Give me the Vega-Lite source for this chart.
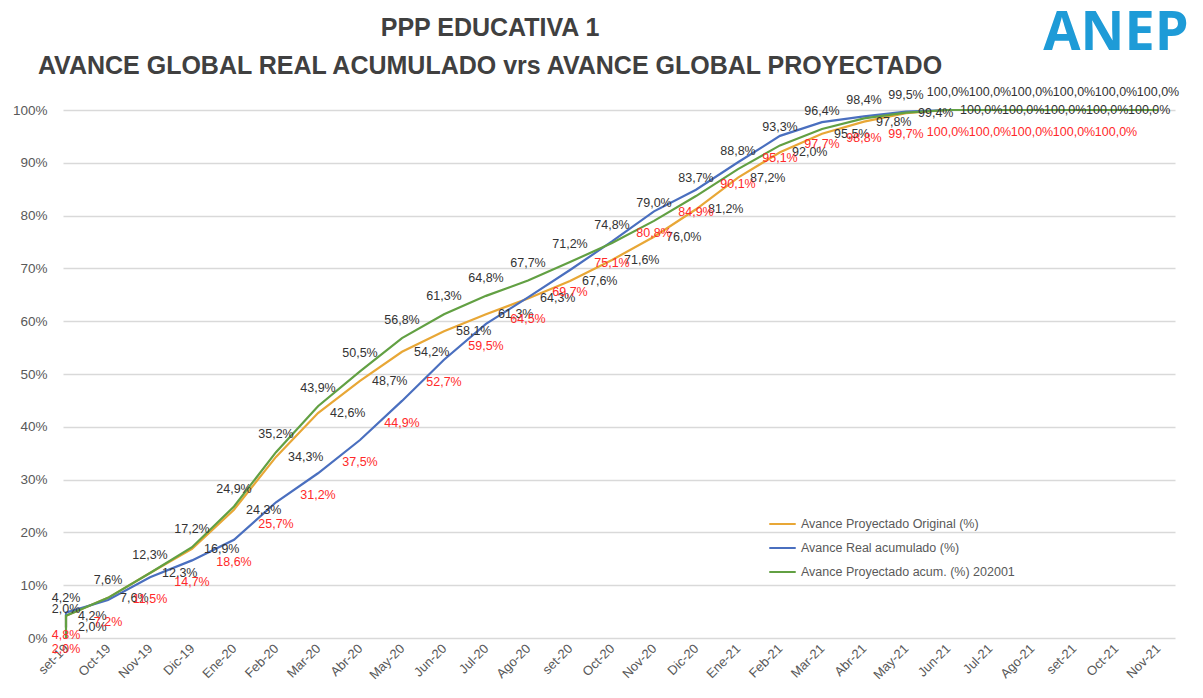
{
  "$schema": "https://vega.github.io/schema/vega-lite/v6.json",
  "width": 1112,
  "height": 528,
  "autosize": {"type": "none"},
  "padding": {"left": 63, "top": 110, "right": 28, "bottom": 60},
  "background": "white",
  "config": {
    "view": {"stroke": null},
    "locale": {"number": {"decimal": ",", "thousands": ".", "grouping": [3], "currency": ["", " €"]}},
    "text": {"font": "Liberation Sans", "fontSize": 12.5}
  },
  "title": {
    "text": ["PPP EDUCATIVA 1", "AVANCE GLOBAL REAL ACUMULADO vrs AVANCE GLOBAL PROYECTADO"],
    "font": "Liberation Sans",
    "fontSize": 25,
    "fontWeight": "bold",
    "color": "#404040",
    "anchor": "middle",
    "dx": -129,
    "offset": -72,
    "lineHeight": 38
  },
  "datasets": {
    "d": [
      {"m": "set-19", "i": 0, "s": "Avance Proyectado Original (%)", "v": 0.020},
      {"m": "set-19", "i": 1, "s": "Avance Proyectado Original (%)", "v": 0.042},
      {"m": "Oct-19", "i": 2, "s": "Avance Proyectado Original (%)", "v": 0.076},
      {"m": "Nov-19", "i": 3, "s": "Avance Proyectado Original (%)", "v": 0.123},
      {"m": "Dic-19", "i": 4, "s": "Avance Proyectado Original (%)", "v": 0.169},
      {"m": "Ene-20", "i": 5, "s": "Avance Proyectado Original (%)", "v": 0.243},
      {"m": "Feb-20", "i": 6, "s": "Avance Proyectado Original (%)", "v": 0.343},
      {"m": "Mar-20", "i": 7, "s": "Avance Proyectado Original (%)", "v": 0.426},
      {"m": "Abr-20", "i": 8, "s": "Avance Proyectado Original (%)", "v": 0.487},
      {"m": "May-20", "i": 9, "s": "Avance Proyectado Original (%)", "v": 0.542},
      {"m": "Jun-20", "i": 10, "s": "Avance Proyectado Original (%)", "v": 0.581},
      {"m": "Jul-20", "i": 11, "s": "Avance Proyectado Original (%)", "v": 0.613},
      {"m": "Ago-20", "i": 12, "s": "Avance Proyectado Original (%)", "v": 0.643},
      {"m": "set-20", "i": 13, "s": "Avance Proyectado Original (%)", "v": 0.676},
      {"m": "Oct-20", "i": 14, "s": "Avance Proyectado Original (%)", "v": 0.716},
      {"m": "Nov-20", "i": 15, "s": "Avance Proyectado Original (%)", "v": 0.760},
      {"m": "Dic-20", "i": 16, "s": "Avance Proyectado Original (%)", "v": 0.812},
      {"m": "Ene-21", "i": 17, "s": "Avance Proyectado Original (%)", "v": 0.872},
      {"m": "Feb-21", "i": 18, "s": "Avance Proyectado Original (%)", "v": 0.920},
      {"m": "Mar-21", "i": 19, "s": "Avance Proyectado Original (%)", "v": 0.955},
      {"m": "Abr-21", "i": 20, "s": "Avance Proyectado Original (%)", "v": 0.978},
      {"m": "May-21", "i": 21, "s": "Avance Proyectado Original (%)", "v": 0.994},
      {"m": "Jun-21", "i": 22, "s": "Avance Proyectado Original (%)", "v": 1.0},
      {"m": "Jul-21", "i": 23, "s": "Avance Proyectado Original (%)", "v": 1.0},
      {"m": "Ago-21", "i": 24, "s": "Avance Proyectado Original (%)", "v": 1.0},
      {"m": "set-21", "i": 25, "s": "Avance Proyectado Original (%)", "v": 1.0},
      {"m": "Oct-21", "i": 26, "s": "Avance Proyectado Original (%)", "v": 1.0},

      {"m": "set-19", "i": 0, "s": "Avance Real acumulado (%)", "v": 0.020},
      {"m": "set-19", "i": 1, "s": "Avance Real acumulado (%)", "v": 0.048},
      {"m": "Oct-19", "i": 2, "s": "Avance Real acumulado (%)", "v": 0.072},
      {"m": "Nov-19", "i": 3, "s": "Avance Real acumulado (%)", "v": 0.115},
      {"m": "Dic-19", "i": 4, "s": "Avance Real acumulado (%)", "v": 0.147},
      {"m": "Ene-20", "i": 5, "s": "Avance Real acumulado (%)", "v": 0.186},
      {"m": "Feb-20", "i": 6, "s": "Avance Real acumulado (%)", "v": 0.257},
      {"m": "Mar-20", "i": 7, "s": "Avance Real acumulado (%)", "v": 0.312},
      {"m": "Abr-20", "i": 8, "s": "Avance Real acumulado (%)", "v": 0.375},
      {"m": "May-20", "i": 9, "s": "Avance Real acumulado (%)", "v": 0.449},
      {"m": "Jun-20", "i": 10, "s": "Avance Real acumulado (%)", "v": 0.527},
      {"m": "Jul-20", "i": 11, "s": "Avance Real acumulado (%)", "v": 0.595},
      {"m": "Ago-20", "i": 12, "s": "Avance Real acumulado (%)", "v": 0.645},
      {"m": "set-20", "i": 13, "s": "Avance Real acumulado (%)", "v": 0.697},
      {"m": "Oct-20", "i": 14, "s": "Avance Real acumulado (%)", "v": 0.751},
      {"m": "Nov-20", "i": 15, "s": "Avance Real acumulado (%)", "v": 0.808},
      {"m": "Dic-20", "i": 16, "s": "Avance Real acumulado (%)", "v": 0.849},
      {"m": "Ene-21", "i": 17, "s": "Avance Real acumulado (%)", "v": 0.901},
      {"m": "Feb-21", "i": 18, "s": "Avance Real acumulado (%)", "v": 0.951},
      {"m": "Mar-21", "i": 19, "s": "Avance Real acumulado (%)", "v": 0.977},
      {"m": "Abr-21", "i": 20, "s": "Avance Real acumulado (%)", "v": 0.988},
      {"m": "May-21", "i": 21, "s": "Avance Real acumulado (%)", "v": 0.997},
      {"m": "Jun-21", "i": 22, "s": "Avance Real acumulado (%)", "v": 1.0},
      {"m": "Jul-21", "i": 23, "s": "Avance Real acumulado (%)", "v": 1.0},
      {"m": "Ago-21", "i": 24, "s": "Avance Real acumulado (%)", "v": 1.0},
      {"m": "set-21", "i": 25, "s": "Avance Real acumulado (%)", "v": 1.0},
      {"m": "Oct-21", "i": 26, "s": "Avance Real acumulado (%)", "v": 1.0},

      {"m": "set-19", "i": 0, "s": "Avance Proyectado acum. (%) 202001", "v": 0.0},
      {"m": "set-19", "i": 1, "s": "Avance Proyectado acum. (%) 202001", "v": 0.020},
      {"m": "set-19", "i": 2, "s": "Avance Proyectado acum. (%) 202001", "v": 0.042},
      {"m": "Oct-19", "i": 3, "s": "Avance Proyectado acum. (%) 202001", "v": 0.076},
      {"m": "Nov-19", "i": 4, "s": "Avance Proyectado acum. (%) 202001", "v": 0.123},
      {"m": "Dic-19", "i": 5, "s": "Avance Proyectado acum. (%) 202001", "v": 0.172},
      {"m": "Ene-20", "i": 6, "s": "Avance Proyectado acum. (%) 202001", "v": 0.249},
      {"m": "Feb-20", "i": 7, "s": "Avance Proyectado acum. (%) 202001", "v": 0.352},
      {"m": "Mar-20", "i": 8, "s": "Avance Proyectado acum. (%) 202001", "v": 0.439},
      {"m": "Abr-20", "i": 9, "s": "Avance Proyectado acum. (%) 202001", "v": 0.505},
      {"m": "May-20", "i": 10, "s": "Avance Proyectado acum. (%) 202001", "v": 0.568},
      {"m": "Jun-20", "i": 11, "s": "Avance Proyectado acum. (%) 202001", "v": 0.613},
      {"m": "Jul-20", "i": 12, "s": "Avance Proyectado acum. (%) 202001", "v": 0.648},
      {"m": "Ago-20", "i": 13, "s": "Avance Proyectado acum. (%) 202001", "v": 0.677},
      {"m": "set-20", "i": 14, "s": "Avance Proyectado acum. (%) 202001", "v": 0.712},
      {"m": "Oct-20", "i": 15, "s": "Avance Proyectado acum. (%) 202001", "v": 0.748},
      {"m": "Nov-20", "i": 16, "s": "Avance Proyectado acum. (%) 202001", "v": 0.790},
      {"m": "Dic-20", "i": 17, "s": "Avance Proyectado acum. (%) 202001", "v": 0.837},
      {"m": "Ene-21", "i": 18, "s": "Avance Proyectado acum. (%) 202001", "v": 0.888},
      {"m": "Feb-21", "i": 19, "s": "Avance Proyectado acum. (%) 202001", "v": 0.933},
      {"m": "Mar-21", "i": 20, "s": "Avance Proyectado acum. (%) 202001", "v": 0.964},
      {"m": "Abr-21", "i": 21, "s": "Avance Proyectado acum. (%) 202001", "v": 0.984},
      {"m": "May-21", "i": 22, "s": "Avance Proyectado acum. (%) 202001", "v": 0.995},
      {"m": "Jun-21", "i": 23, "s": "Avance Proyectado acum. (%) 202001", "v": 1.0},
      {"m": "Jul-21", "i": 24, "s": "Avance Proyectado acum. (%) 202001", "v": 1.0},
      {"m": "Ago-21", "i": 25, "s": "Avance Proyectado acum. (%) 202001", "v": 1.0},
      {"m": "set-21", "i": 26, "s": "Avance Proyectado acum. (%) 202001", "v": 1.0},
      {"m": "Oct-21", "i": 27, "s": "Avance Proyectado acum. (%) 202001", "v": 1.0},
      {"m": "Nov-21", "i": 28, "s": "Avance Proyectado acum. (%) 202001", "v": 1.0}
    ],
    "logo": [{"t": "ANEP"}]
  },
  "data": {"name": "d"},
  "layer": [
    {
      "layer": [
        {
          "transform": [{"filter": "datum.s === 'Avance Proyectado Original (%)'"}],
          "mark": {"type": "line", "strokeWidth": 2.2},
          "encoding": {
            "order": {"field": "i", "type": "quantitative"},
            "color": {
              "field": "s",
              "type": "nominal",
              "scale": {
                "domain": ["Avance Proyectado Original (%)", "Avance Real acumulado (%)", "Avance Proyectado acum. (%) 202001"],
                "range": ["#E8A736", "#4A6FBF", "#62A043"]
              },
              "legend": {
                "title": null,
                "orient": "none",
                "legendX": 705,
                "legendY": 402,
                "padding": 0,
                "symbolType": "stroke",
                "symbolSize": 700,
                "symbolStrokeWidth": 2,
                "clipHeight": 24,
                "rowPadding": 0,
                "labelFont": "Liberation Sans",
                "labelFontSize": 12.5,
                "labelColor": "#595959",
                "labelOffset": 4,
                "labelLimit": 400
              }
            }
          }
        },
        {
          "transform": [{"filter": "datum.s === 'Avance Real acumulado (%)'"}],
          "mark": {"type": "line", "strokeWidth": 2.2},
          "encoding": {
            "order": {"field": "i", "type": "quantitative"},
            "color": {"field": "s", "type": "nominal"}
          }
        },
        {
          "transform": [{"filter": "datum.s === 'Avance Proyectado acum. (%) 202001'"}],
          "mark": {"type": "line", "strokeWidth": 2.2},
          "encoding": {
            "order": {"field": "i", "type": "quantitative"},
            "color": {"field": "s", "type": "nominal"}
          }
        },
        {
          "transform": [{"filter": "datum.s === 'Avance Proyectado Original (%)'"}],
          "mark": {"type": "text", "align": "left", "baseline": "middle", "dx": 12, "color": "#333333"},
          "encoding": {"text": {"field": "v", "type": "quantitative", "format": ".1%"}}
        },
        {
          "transform": [{"filter": "datum.s === 'Avance Real acumulado (%)'"}],
          "mark": {"type": "text", "align": "center", "baseline": "middle", "dy": 22, "color": "#FF2A2A"},
          "encoding": {"text": {"field": "v", "type": "quantitative", "format": ".1%"}}
        },
        {
          "transform": [{"filter": "datum.s === 'Avance Proyectado acum. (%) 202001' && datum.v > 0"}],
          "mark": {"type": "text", "align": "center", "baseline": "middle", "dy": -18, "color": "#333333"},
          "encoding": {"text": {"field": "v", "type": "quantitative", "format": ".1%"}}
        }
      ],
      "encoding": {
        "x": {
          "field": "m",
          "type": "ordinal",
          "sort": ["set-19","Oct-19","Nov-19","Dic-19","Ene-20","Feb-20","Mar-20","Abr-20","May-20","Jun-20","Jul-20","Ago-20","set-20","Oct-20","Nov-20","Dic-20","Ene-21","Feb-21","Mar-21","Abr-21","May-21","Jun-21","Jul-21","Ago-21","set-21","Oct-21","Nov-21"],
          "scale": {
            "type": "point",
            "domain": ["set-19","Oct-19","Nov-19","Dic-19","Ene-20","Feb-20","Mar-20","Abr-20","May-20","Jun-20","Jul-20","Ago-20","set-20","Oct-20","Nov-20","Dic-20","Ene-21","Feb-21","Mar-21","Abr-21","May-21","Jun-21","Jul-21","Ago-21","set-21","Oct-21","Nov-21"],
            "padding": 0.238,
            "align": 0.15
          },
          "axis": {
            "title": null,
            "domain": false,
            "ticks": false,
            "grid": false,
            "labelAngle": -45,
            "labelAlign": "right",
            "labelBaseline": "middle",
            "labelPadding": 8,
            "labelFont": "Liberation Sans",
            "labelFontSize": 13,
            "labelColor": "#595959"
          }
        },
        "y": {
          "field": "v",
          "type": "quantitative",
          "scale": {"domain": [0, 1], "nice": false, "zero": true},
          "axis": {
            "title": null,
            "domain": false,
            "ticks": false,
            "values": [0, 0.1, 0.2, 0.3, 0.4, 0.5, 0.6, 0.7, 0.8, 0.9, 1.0],
            "format": ".0%",
            "labelPadding": 16,
            "labelFont": "Liberation Sans",
            "labelFontSize": 13.5,
            "labelColor": "#595959",
            "gridColor": "#D9D9D9",
            "gridWidth": 1.3
          }
        }
      }
    },
    {
      "data": {"name": "logo"},
      "mark": {"type": "text", "align": "center", "baseline": "alphabetic", "font": "Open Sans", "fontSize": 54, "fontWeight": "bold", "fill": "#1E9BD7", "clip": false},
      "encoding": {
        "x": {"datum": "Oct-21"},
        "y": {"datum": 1.114},
        "text": {"field": "t", "type": "nominal"}
      }
    }
  ]
}
